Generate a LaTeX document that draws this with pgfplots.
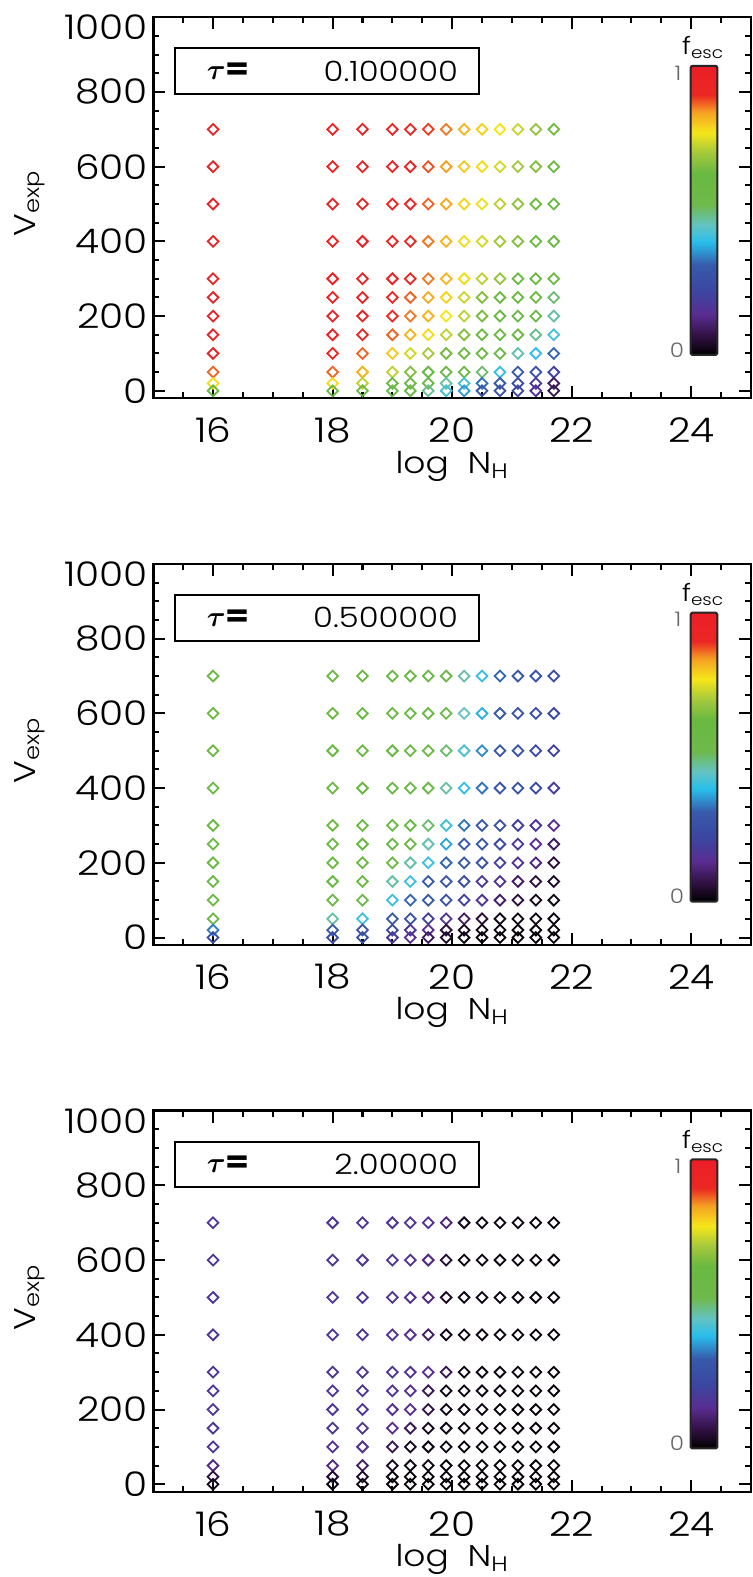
\documentclass[border=0pt]{standalone}
\usepackage{fontspec}
\setmainfont{Poppins}[UprightFont={* Light}, BoldFont={* Bold}, FakeStretch=1.15]
\usepackage{amsmath}
\usepackage{pgfplots}
\pgfplotsset{compat=1.18}
\definecolor{c0}{RGB}{0,0,0}
\definecolor{c1}{RGB}{45,15,60}
\definecolor{c2}{RGB}{90,45,145}
\definecolor{c3}{RGB}{60,70,160}
\definecolor{c4}{RGB}{55,90,170}
\definecolor{c5}{RGB}{40,190,235}
\definecolor{c6}{RGB}{100,195,195}
\definecolor{c7}{RGB}{110,185,75}
\definecolor{c8}{RGB}{105,185,65}
\definecolor{c9}{RGB}{165,200,60}
\definecolor{c10}{RGB}{245,230,25}
\definecolor{c11}{RGB}{245,160,35}
\definecolor{c12}{RGB}{235,40,35}
\definecolor{c13}{RGB}{235,30,40}
\pgfplotsset{
  colormap={idl}{rgb255(0pt)=(0,0,0) rgb255(6pt)=(45,15,60) rgb255(14pt)=(90,45,145) rgb255(22pt)=(60,70,160) rgb255(31pt)=(55,90,170) rgb255(39pt)=(40,190,235) rgb255(45pt)=(100,195,195) rgb255(52pt)=(110,185,75) rgb255(63pt)=(105,185,65) rgb255(70pt)=(165,200,60) rgb255(77pt)=(245,230,25) rgb255(84pt)=(245,160,35) rgb255(90pt)=(235,40,35) rgb255(100pt)=(235,30,40)},
  panel/.style={
    scale only axis, width=298.85pt, height=190.5pt, anchor=south west,
    xmin=15, xmax=25, ymin=-20, ymax=1000,
    xtick={16,18,20,22,24},
    minor xtick={15.5,16.5,17,17.5,18.5,19,19.5,20.5,21,21.5,22.5,23,23.5,24.5},
    ytick={0,200,400,600,800},
    extra y ticks={1000},
    extra y tick style={yticklabel style={yshift=-5pt}},
    minor ytick={50,100,150,250,300,350,450,500,550,650,700,750,850,900,950},
    tick align=inside, major tick length=6pt, minor tick length=3pt,
    axis line style={line width=1.2pt},
    every tick/.style={line width=1pt, black},
    tick label style={font=\fontsize{17}{19}\selectfont, inner sep=0pt},
    /pgf/number format/assume math mode=true,
    /pgf/number format/1000 sep={},
    xticklabel style={anchor=center, yshift=-16pt},
    yticklabel style={anchor=east, xshift=-2.5pt},
    xlabel={log\ \ N\textsubscript{H}}, ylabel={V\textsubscript{exp}},
    every axis x label/.style={at={(axis description cs:0.5,0)}, anchor=base, yshift=-37.5pt, font=\fontsize{15}{17}\selectfont},
    every axis y label/.style={at={(axis description cs:-0.197,0.511)}, anchor=base, rotate=90, font=\fontsize{15}{17}\selectfont},
    point meta min=0, point meta max=1,
  },
  pts/.style={scatter, only marks, mark=square, mark size=1.9pt, point meta=explicit,
    scatter/use mapped color={draw=mapped color},
    mark options={rotate=45, line width=0.9pt, solid}},
}
\newcommand{\seg}[4]{\shade[bottom color=#1, top color=#2] (rel axis cs:0.8991,#3) rectangle (rel axis cs:0.9436,#4);}
\newcommand{\taubox}[1]{%
  \draw[line width=0.9pt] (rel axis cs:0.0363,0.7987) rectangle (rel axis cs:0.5454,0.9186);
  \node[anchor=west, font=\fontsize{15}{16}\selectfont] at (rel axis cs:0.078,0.859) {$\boldsymbol{\tau}$\textbf{=}};
  \node[anchor=east, font=\fontsize{14}{16}\selectfont] at (rel axis cs:0.5215,0.859) {#1};
  % colour bar
  \seg{c0}{c1}{0.1136}{0.1591}
  \seg{c1}{c2}{0.1591}{0.2198}
  \seg{c2}{c3}{0.2198}{0.2805}
  \seg{c3}{c4}{0.2805}{0.3488}
  \seg{c4}{c5}{0.3488}{0.4095}
  \seg{c5}{c6}{0.4095}{0.4550}
  \seg{c6}{c7}{0.4550}{0.5081}
  \seg{c7}{c8}{0.5081}{0.5915}
  \seg{c8}{c9}{0.5915}{0.6446}
  \seg{c9}{c10}{0.6446}{0.6977}
  \seg{c10}{c11}{0.6977}{0.7508}
  \seg{c11}{c12}{0.7508}{0.7963}
  \seg{c12}{c13}{0.7963}{0.8722}
  \draw[line width=1pt, black!85, rounded corners=0.8pt] (rel axis cs:0.8991,0.1136) rectangle (rel axis cs:0.9436,0.8722);
  \node[font=\fontsize{10}{10}\selectfont, text=black!60, inner sep=0pt] at (rel axis cs:0.878,0.854) {1};
  \node[font=\fontsize{10}{10}\selectfont, text=black!60, inner sep=0pt] at (rel axis cs:0.876,0.127) {0};
  \node[anchor=base west, font=\fontsize{12}{12}\selectfont, inner sep=0pt] at (rel axis cs:0.884,0.901) {f\textsubscript{esc}};
}
\begin{document}
\begin{tikzpicture}
% ---------------- panel 1: tau = 0.1
\begin{axis}[panel, at={(76.65pt,589.35pt)}]
\addplot[pts] coordinates {(16,700)[.95] (18,700)[.95] (18.5,700)[.95] (19,700)[.94] (19.3,700)[.92] (19.6,700)[.89] (19.9,700)[.86] (20.2,700)[.82] (20.5,700)[.79] (20.8,700)[.77] (21.1,700)[.73] (21.4,700)[.68] (21.7,700)[.64]};
\addplot[pts] coordinates {(16,600)[.95] (18,600)[.95] (18.5,600)[.95] (19,600)[.94] (19.3,600)[.91] (19.6,600)[.88] (19.9,600)[.84] (20.2,600)[.80] (20.5,600)[.78] (20.8,600)[.74] (21.1,600)[.70] (21.4,600)[.66] (21.7,600)[.62]};
\addplot[pts] coordinates {(16,500)[.95] (18,500)[.95] (18.5,500)[.95] (19,500)[.93] (19.3,500)[.90] (19.6,500)[.87] (19.9,500)[.83] (20.2,500)[.79] (20.5,500)[.76] (20.8,500)[.72] (21.1,500)[.68] (21.4,500)[.64] (21.7,500)[.60]};
\addplot[pts] coordinates {(16,400)[.95] (18,400)[.95] (18.5,400)[.95] (19,400)[.93] (19.3,400)[.90] (19.6,400)[.86] (19.9,400)[.82] (20.2,400)[.78] (20.5,400)[.74] (20.8,400)[.70] (21.1,400)[.66] (21.4,400)[.62] (21.7,400)[.58]};
\addplot[pts] coordinates {(16,300)[.95] (18,300)[.95] (18.5,300)[.95] (19,300)[.94] (19.3,300)[.90] (19.6,300)[.86] (19.9,300)[.82] (20.2,300)[.78] (20.5,300)[.72] (20.8,300)[.68] (21.1,300)[.62] (21.4,300)[.60] (21.7,300)[.58]};
\addplot[pts] coordinates {(16,250)[.95] (18,250)[.95] (18.5,250)[.95] (19,250)[.91] (19.3,250)[.87] (19.6,250)[.83] (19.9,250)[.79] (20.2,250)[.73] (20.5,250)[.66] (20.8,250)[.62] (21.1,250)[.60] (21.4,250)[.58] (21.7,250)[.50]};
\addplot[pts] coordinates {(16,200)[.95] (18,200)[.95] (18.5,200)[.94] (19,200)[.90] (19.3,200)[.86] (19.6,200)[.82] (19.9,200)[.77] (20.2,200)[.72] (20.5,200)[.65] (20.8,200)[.61] (21.1,200)[.59] (21.4,200)[.56] (21.7,200)[.47]};
\addplot[pts] coordinates {(16,150)[.95] (18,150)[.95] (18.5,150)[.91] (19,150)[.87] (19.3,150)[.82] (19.6,150)[.78] (19.9,150)[.72] (20.2,150)[.66] (20.5,150)[.62] (20.8,150)[.59] (21.1,150)[.56] (21.4,150)[.48] (21.7,150)[.42]};
\addplot[pts] coordinates {(16,100)[.95] (18,100)[.91] (18.5,100)[.87] (19,100)[.80] (19.3,100)[.74] (19.6,100)[.70] (19.9,100)[.64] (20.2,100)[.61] (20.5,100)[.59] (20.8,100)[.56] (21.1,100)[.46] (21.4,100)[.40] (21.7,100)[.32]};
\addplot[pts] coordinates {(16,50)[.87] (18,50)[.87] (18.5,50)[.82] (19,50)[.72] (19.3,50)[.66] (19.6,50)[.62] (19.9,50)[.60] (20.2,50)[.58] (20.5,50)[.50] (20.8,50)[.41] (21.1,50)[.31] (21.4,50)[.27] (21.7,50)[.22]};
\addplot[pts] coordinates {(16,20)[.78] (18,20)[.78] (18.5,20)[.72] (19,20)[.62] (19.3,20)[.60] (19.6,20)[.58] (19.9,20)[.47] (20.2,20)[.42] (20.5,20)[.33] (20.8,20)[.30] (21.1,20)[.25] (21.4,20)[.18] (21.7,20)[.10]};
\addplot[pts] coordinates {(16,0)[.62] (18,0)[.60] (18.5,0)[.60] (19,0)[.58] (19.3,0)[.56] (19.6,0)[.48] (19.9,0)[.42] (20.2,0)[.36] (20.5,0)[.30] (20.8,0)[.28] (21.1,0)[.22] (21.4,0)[.15] (21.7,0)[.08]};
\taubox{0.100000}
\end{axis}
% ---------------- panel 2: tau = 0.5
\begin{axis}[panel, at={(76.65pt,316pt)}]
\addplot[pts] coordinates {(16,700)[.62] (18,700)[.62] (18.5,700)[.62] (19,700)[.61] (19.3,700)[.60] (19.6,700)[.58] (19.9,700)[.55] (20.2,700)[.47] (20.5,700)[.40] (20.8,700)[.32] (21.1,700)[.30] (21.4,700)[.28] (21.7,700)[.25]};
\addplot[pts] coordinates {(16,600)[.62] (18,600)[.62] (18.5,600)[.62] (19,600)[.60] (19.3,600)[.59] (19.6,600)[.57] (19.9,600)[.52] (20.2,600)[.45] (20.5,600)[.38] (20.8,600)[.31] (21.1,600)[.29] (21.4,600)[.26] (21.7,600)[.23]};
\addplot[pts] coordinates {(16,500)[.62] (18,500)[.62] (18.5,500)[.62] (19,500)[.60] (19.3,500)[.58] (19.6,500)[.56] (19.9,500)[.50] (20.2,500)[.43] (20.5,500)[.35] (20.8,500)[.30] (21.1,500)[.28] (21.4,500)[.25] (21.7,500)[.21]};
\addplot[pts] coordinates {(16,400)[.62] (18,400)[.62] (18.5,400)[.62] (19,400)[.60] (19.3,400)[.58] (19.6,400)[.54] (19.9,400)[.47] (20.2,400)[.40] (20.5,400)[.33] (20.8,400)[.30] (21.1,400)[.27] (21.4,400)[.23] (21.7,400)[.19]};
\addplot[pts] coordinates {(16,300)[.62] (18,300)[.62] (18.5,300)[.62] (19,300)[.60] (19.3,300)[.58] (19.6,300)[.50] (19.9,300)[.42] (20.2,300)[.33] (20.5,300)[.30] (20.8,300)[.28] (21.1,300)[.20] (21.4,300)[.17] (21.7,300)[.14]};
\addplot[pts] coordinates {(16,250)[.62] (18,250)[.62] (18.5,250)[.62] (19,250)[.60] (19.3,250)[.56] (19.6,250)[.46] (19.9,250)[.37] (20.2,250)[.31] (20.5,250)[.29] (20.8,250)[.24] (21.1,250)[.17] (21.4,250)[.14] (21.7,250)[.09]};
\addplot[pts] coordinates {(16,200)[.62] (18,200)[.62] (18.5,200)[.62] (19,200)[.57] (19.3,200)[.47] (19.6,200)[.41] (19.9,200)[.32] (20.2,200)[.30] (20.5,200)[.28] (20.8,200)[.20] (21.1,200)[.16] (21.4,200)[.12] (21.7,200)[.06]};
\addplot[pts] coordinates {(16,150)[.62] (18,150)[.62] (18.5,150)[.60] (19,150)[.47] (19.3,150)[.41] (19.6,150)[.31] (19.9,150)[.30] (20.2,150)[.26] (20.5,150)[.18] (20.8,150)[.16] (21.1,150)[.10] (21.4,150)[.06] (21.7,150)[.04]};
\addplot[pts] coordinates {(16,100)[.60] (18,100)[.60] (18.5,100)[.55] (19,100)[.41] (19.3,100)[.32] (19.6,100)[.30] (19.9,100)[.28] (20.2,100)[.20] (20.5,100)[.17] (20.8,100)[.10] (21.1,100)[.06] (21.4,100)[.03] (21.7,100)[.02]};
\addplot[pts] coordinates {(16,50)[.58] (18,50)[.47] (18.5,50)[.41] (19,50)[.30] (19.3,50)[.28] (19.6,50)[.20] (19.9,50)[.17] (20.2,50)[.10] (20.5,50)[.06] (20.8,50)[.03] (21.1,50)[.02] (21.4,50)[.02] (21.7,50)[.02]};
\addplot[pts] coordinates {(16,20)[.34] (18,20)[.30] (18.5,20)[.28] (19,20)[.24] (19.3,20)[.18] (19.6,20)[.14] (19.9,20)[.06] (20.2,20)[.03] (20.5,20)[.02] (20.8,20)[.02] (21.1,20)[.01] (21.4,20)[.01] (21.7,20)[.01]};
\addplot[pts] coordinates {(16,0)[.26] (18,0)[.27] (18.5,0)[.26] (19,0)[.18] (19.3,0)[.15] (19.6,0)[.09] (19.9,0)[.04] (20.2,0)[.02] (20.5,0)[.01] (20.8,0)[.01] (21.1,0)[.01] (21.4,0)[.01] (21.7,0)[.01]};
\taubox{0.500000}
\end{axis}
% ---------------- panel 3: tau = 2
\begin{axis}[panel, at={(76.65pt,42.65pt)}]
\addplot[pts] coordinates {(16,700)[.17] (18,700)[.17] (18.5,700)[.17] (19,700)[.17] (19.3,700)[.17] (19.6,700)[.16] (19.9,700)[.12] (20.2,700)[.03] (20.5,700)[.02] (20.8,700)[.02] (21.1,700)[.02] (21.4,700)[.01] (21.7,700)[.01]};
\addplot[pts] coordinates {(16,600)[.17] (18,600)[.17] (18.5,600)[.17] (19,600)[.17] (19.3,600)[.16] (19.6,600)[.13] (19.9,600)[.05] (20.2,600)[.02] (20.5,600)[.02] (20.8,600)[.02] (21.1,600)[.02] (21.4,600)[.01] (21.7,600)[.01]};
\addplot[pts] coordinates {(16,500)[.17] (18,500)[.17] (18.5,500)[.17] (19,500)[.17] (19.3,500)[.16] (19.6,500)[.12] (19.9,500)[.04] (20.2,500)[.02] (20.5,500)[.02] (20.8,500)[.02] (21.1,500)[.02] (21.4,500)[.01] (21.7,500)[.01]};
\addplot[pts] coordinates {(16,400)[.17] (18,400)[.17] (18.5,400)[.17] (19,400)[.16] (19.3,400)[.15] (19.6,400)[.10] (19.9,400)[.03] (20.2,400)[.02] (20.5,400)[.02] (20.8,400)[.02] (21.1,400)[.01] (21.4,400)[.01] (21.7,400)[.01]};
\addplot[pts] coordinates {(16,300)[.17] (18,300)[.17] (18.5,300)[.17] (19,300)[.17] (19.3,300)[.16] (19.6,300)[.14] (19.9,300)[.08] (20.2,300)[.02] (20.5,300)[.02] (20.8,300)[.02] (21.1,300)[.02] (21.4,300)[.01] (21.7,300)[.01]};
\addplot[pts] coordinates {(16,250)[.17] (18,250)[.17] (18.5,250)[.17] (19,250)[.16] (19.3,250)[.15] (19.6,250)[.08] (19.9,250)[.02] (20.2,250)[.02] (20.5,250)[.02] (20.8,250)[.02] (21.1,250)[.01] (21.4,250)[.01] (21.7,250)[.01]};
\addplot[pts] coordinates {(16,200)[.17] (18,200)[.17] (18.5,200)[.17] (19,200)[.15] (19.3,200)[.14] (19.6,200)[.07] (19.9,200)[.02] (20.2,200)[.02] (20.5,200)[.02] (20.8,200)[.01] (21.1,200)[.01] (21.4,200)[.01] (21.7,200)[.01]};
\addplot[pts] coordinates {(16,150)[.17] (18,150)[.17] (18.5,150)[.17] (19,150)[.14] (19.3,150)[.09] (19.6,150)[.03] (19.9,150)[.02] (20.2,150)[.02] (20.5,150)[.01] (20.8,150)[.01] (21.1,150)[.01] (21.4,150)[.01] (21.7,150)[.01]};
\addplot[pts] coordinates {(16,100)[.16] (18,100)[.16] (18.5,100)[.16] (19,100)[.08] (19.3,100)[.03] (19.6,100)[.02] (19.9,100)[.02] (20.2,100)[.01] (20.5,100)[.01] (20.8,100)[.01] (21.1,100)[.01] (21.4,100)[.01] (21.7,100)[.01]};
\addplot[pts] coordinates {(16,50)[.13] (18,50)[.13] (18.5,50)[.10] (19,50)[.03] (19.3,50)[.02] (19.6,50)[.02] (19.9,50)[.01] (20.2,50)[.01] (20.5,50)[.01] (20.8,50)[.01] (21.1,50)[.01] (21.4,50)[.01] (21.7,50)[.01]};
\addplot[pts] coordinates {(16,20)[.06] (18,20)[.05] (18.5,20)[.04] (19,20)[.02] (19.3,20)[.01] (19.6,20)[.01] (19.9,20)[.01] (20.2,20)[.01] (20.5,20)[.01] (20.8,20)[.01] (21.1,20)[.01] (21.4,20)[.01] (21.7,20)[.01]};
\addplot[pts] coordinates {(16,0)[.03] (18,0)[.02] (18.5,0)[.02] (19,0)[.01] (19.3,0)[.01] (19.6,0)[.01] (19.9,0)[.01] (20.2,0)[.01] (20.5,0)[.01] (20.8,0)[.01] (21.1,0)[.01] (21.4,0)[.01] (21.7,0)[.01]};
\taubox{2.00000}
\end{axis}
\pgfresetboundingbox
\path[use as bounding box] (0,0) rectangle (376pt,788.5pt);
\end{tikzpicture}
\end{document}
